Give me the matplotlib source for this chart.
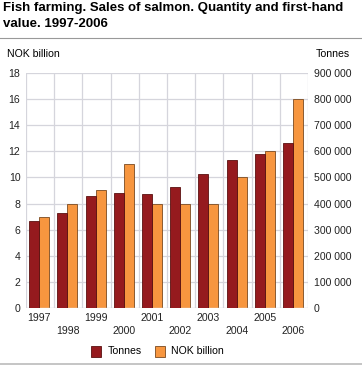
import matplotlib.pyplot as plt
from matplotlib import font_manager as fm
from matplotlib.patches import Rectangle
import numpy as np

plt.rcParams['font.family'] = ['Liberation Sans', 'DejaVu Sans']

# pick the regular (not narrow) bold face for the title
bold_file = None
for f in fm.findSystemFonts():
    if f.endswith('LiberationSans-Bold.ttf'):
        bold_file = f
title_font = fm.FontProperties(fname=bold_file, size=9.5) if bold_file else fm.FontProperties(size=9.5, weight='bold')

years = ['1997', '1998', '1999', '2000', '2001', '2002', '2003', '2004', '2005', '2006']
tonnes = [334000, 362000, 429000, 442000, 437000, 465000, 512000, 567000, 589000, 632000]
nok_billion = [7, 8, 9, 11, 8, 8, 8, 10, 12, 16]

c_tonnes = '#951a1e'
c_nok = '#f7963f'
grid_c = '#d5d5dc'
fs = 7.6

fig = plt.figure(figsize=(3.62, 3.66), dpi=100)
ax = fig.add_axes([26/362, 58.3/366, 282/362, 234.4/366])
ax2 = ax.twinx()

x = np.arange(len(years))
w = 0.355
ax2.bar(x - w/2 - 0.03, tonnes, w, color=c_tonnes, edgecolor='#5a1010', linewidth=0.6, zorder=3)
ax.bar(x + w/2 - 0.03, nok_billion, w, color=c_nok, edgecolor='#7a4a20', linewidth=0.6, zorder=3)

ax.set_xlim(-0.5, 9.5)
ax.set_ylim(0, 18)
ax.set_yticks(range(0, 19, 2))
ax2.set_ylim(0, 900000)
ax2.set_yticks(range(0, 900001, 100000))
ax2.set_yticklabels(['0'] + [f'{v // 1000} 000' for v in range(100000, 900001, 100000)])

# grid
for yv in range(2, 19, 2):
    ax.axhline(yv, color=grid_c, lw=0.9, zorder=0)
for xv in np.arange(-0.5, 10, 1):
    ax.axvline(xv, color=grid_c, lw=0.9, zorder=0)
ax.axhline(0, color=grid_c, lw=1.0, zorder=4)

for a in (ax, ax2):
    for s in a.spines.values():
        s.set_visible(False)
    a.tick_params(length=0, labelsize=fs, colors='#222222')
ax.tick_params(axis='y', pad=4)
ax2.tick_params(axis='y', pad=4)

ax.set_xticks(x)
ax.set_xticklabels(['' for _ in years])
for i, yr in enumerate(years):
    off = -7.4 if i % 2 == 0 else -16.8
    ax.annotate(yr, (i - 0.03, 0), xytext=(0, off), textcoords='offset points',
                ha='center', va='center', fontsize=fs, color='#222222',
                annotation_clip=False)

fig.text(3/362, 1 - 2/366, 'Fish farming. Sales of salmon. Quantity and first-hand\nvalue. 1997-2006',
         ha='left', va='top', fontproperties=title_font, linespacing=1.4)
fig.add_artist(plt.Line2D([0, 1], [1 - 37.7/366, 1 - 37.7/366], color='#999999', lw=0.8))
fig.add_artist(plt.Line2D([0, 1], [1 - 364/366, 1 - 364/366], color='#bbbbbb', lw=1.2))
fig.text(7/362, 1 - 54/366, 'NOK billion', ha='left', va='center', fontsize=fs)
fig.text(350/362, 1 - 54/366, 'Tonnes', ha='right', va='center', fontsize=fs)

# legend
fig.patches.append(Rectangle((91/362, 1 - 357/366), 10/362, 11/366, transform=fig.transFigure,
                             facecolor=c_tonnes, edgecolor='#5a1010', lw=0.6))
fig.text(108/362, 1 - 351/366, 'Tonnes', ha='left', va='center', fontsize=fs)
fig.patches.append(Rectangle((155/362, 1 - 357/366), 10/362, 11/366, transform=fig.transFigure,
                             facecolor=c_nok, edgecolor='#7a4a20', lw=0.6))
fig.text(171/362, 1 - 351/366, 'NOK billion', ha='left', va='center', fontsize=fs)

fig.savefig('out.png', dpi=100)
